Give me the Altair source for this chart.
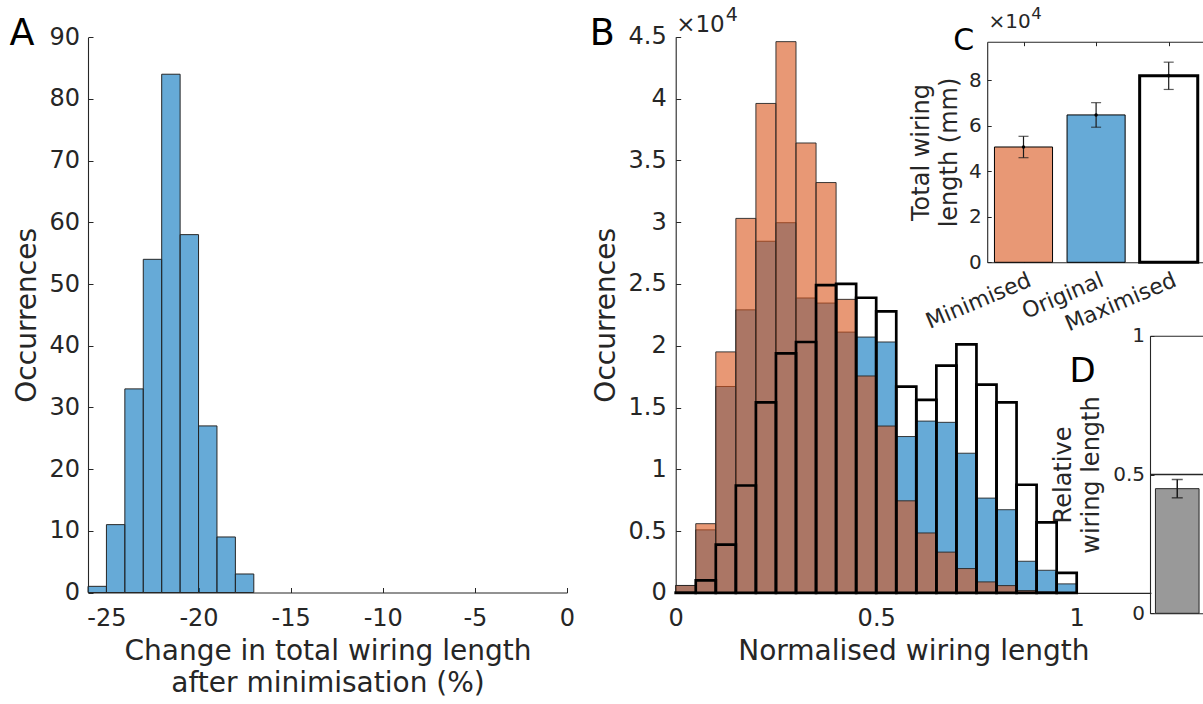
import altair as alt
import pandas as pd

FONT = "DejaVu Sans"
AXIS_GREY = "#262626"
EDGE_GREY = "#262626"
BLUE = "#0072BD"
ORANGE = "#D95319"

# ---------------- data ----------------
# A: change in total wiring length after minimisation (%), 1 % bins
a_bin_left = [-26, -25, -24, -23, -22, -21, -20, -19, -18]
a_counts = [1, 11, 33, 54, 84, 58, 27, 9, 3]
a_bin_width = 1
a_xticks = [-25, -20, -15, -10, -5, 0]
a_yticks = [0, 10, 20, 30, 40, 50, 60, 70, 80, 90]

# B: normalised wiring length, occurrences in units of 10^4
b_bin_left = [0.00, 0.05, 0.10, 0.15, 0.20, 0.25, 0.30, 0.35, 0.40, 0.45,
              0.50, 0.55, 0.60, 0.65, 0.70, 0.75, 0.80, 0.85, 0.90, 0.95]
b_bin_width = 0.05
b_minimised = [0.06, 0.56, 1.95, 3.03, 3.96, 4.46, 3.64, 3.32, 2.375, 1.755,
               1.35, 0.745, 0.485, 0.33, 0.197, 0.089, 0.059, 0.019, 0.008, 0.003]
b_original = [0.06, 0.51, 1.67, 2.29, 2.845, 2.995, 2.386, 2.345, 2.11, 2.07,
              2.03, 1.265, 1.39, 1.38, 1.13, 0.767, 0.673, 0.256, 0.183, 0.073]
b_maximised = [0.002, 0.102, 0.39, 0.869, 1.542, 1.938, 2.03, 2.49, 2.50, 2.388,
               2.278, 1.669, 1.561, 1.838, 2.011, 1.685, 1.542, 0.875, 0.571, 0.162]
b_xticks = [0, 0.5, 1]
b_yticks = [0, 0.5, 1, 1.5, 2, 2.5, 3, 3.5, 4, 4.5]

# C: total wiring length (x 10^4 mm), mean and error
c_names = ["Minimised", "Original", "Maximised"]
c_means = [5.07, 6.48, 8.20]
c_errors = [0.47, 0.54, 0.60]
c_yticks = [0, 2, 4, 6, 8]

# D: relative wiring length
d_mean = [0.449]
d_error = [0.033]
d_reference = [0.5]
d_yticks = [0, 0.5, 1]

# ---------------- styling ----------------
C_FILLS = ["#E89875", "#66AAD7", "#FFFFFF"]
C_EDGE_WIDTHS = [1, 1, 3]

W, H = 1203, 700


def lin(domain, rng):
    return alt.Scale(domain=domain, range=rng, nice=False, zero=False)


def inward(px):
    # ticks drawn towards the inside of the axes box
    return alt.ExprRef(expr=f"-{px}")


NUM = "'' + datum.value"

# plot areas of the four panels on the canvas
sx_a, sy_a = lin([-26, 0], [88, 567]), lin([0, 90], [592.5, 37.2])
sx_b, sy_b = lin([0, 1.185], [675.7, 675.7 + 1.185 * 401]), lin([0, 4.5], [592.9, 36.7])
sx_c, sy_c = lin([0.5, 3.5], [987.2, 1205]), lin([0, 9.7], [262.3, 41.7])
sx_d, sy_d = lin([0.5, 1.5], [1150, 1204.5]), lin([0, 1], [613.3, 335.7])

# ---------------- panel A ----------------
df_a = pd.DataFrame({"left": a_bin_left, "n": a_counts})
df_a["right"] = df_a["left"] + a_bin_width
df_a["base"] = 0

a_hist = alt.Chart(df_a).mark_rect(
    fill=BLUE, fillOpacity=0.6, stroke=EDGE_GREY, strokeWidth=1
).encode(
    x=alt.X("left:Q", scale=sx_a, axis=alt.Axis(
        orient="bottom", offset=-(H - 592.5), values=a_xticks, labelExpr=NUM,
        tickSize=inward(5), labelPadding=19, labelFontSize=24,
        title=["Change in total wiring length", "after minimisation (%)"],
        titleFontSize=28, titleLineHeight=31.5, titlePadding=7)),
    x2="right:Q",
    y=alt.Y("n:Q", scale=sy_a, axis=alt.Axis(
        orient="left", offset=-88, values=a_yticks, labelExpr=NUM,
        tickSize=inward(5), labelPadding=13.5, labelFontSize=24,
        title="Occurrences", titleFontSize=28, titlePadding=7)),
    y2="base:Q",
)

# ---------------- panel B ----------------
df_b = pd.DataFrame({"left": b_bin_left, "mn": b_minimised,
                     "orig": b_original, "mx": b_maximised})
df_b["right"] = df_b["left"] + b_bin_width
df_b["base"] = 0

b_x_axis = alt.Axis(
    orient="bottom", offset=-(H - 592.9), values=b_xticks, labelExpr=NUM,
    tickSize=inward(5), labelPadding=19, labelFontSize=24,
    title="Normalised wiring length", titleFontSize=28, titlePadding=7)
b_y_axis = alt.Axis(
    orient="left", offset=-675.7, values=b_yticks, labelExpr=NUM,
    tickSize=inward(5), labelPadding=14.5, labelFontSize=24,
    title="Occurrences", titleFontSize=28, titlePadding=7.5)


def b_layer(field, mark, x_axis=None, y_axis=None):
    return alt.Chart(df_b).mark_rect(**mark).encode(
        x=alt.X("left:Q", scale=sx_b, axis=x_axis),
        x2="right:Q",
        y=alt.Y(f"{field}:Q", scale=sy_b, axis=y_axis),
        y2="base:Q",
    )


b_orig = b_layer("orig", dict(fill=BLUE, fillOpacity=0.6, stroke=EDGE_GREY,
                              strokeWidth=0.9), b_x_axis, b_y_axis)
b_min = b_layer("mn", dict(fill=ORANGE, fillOpacity=0.6, stroke=EDGE_GREY,
                           strokeWidth=0.9))
b_max = b_layer("mx", dict(fill="white", fillOpacity=0, stroke="black",
                           strokeWidth=2.7))

# ---------------- panel C ----------------
df_c = pd.DataFrame({"name": c_names, "mean": c_means, "err": c_errors})
df_c["pos"] = range(1, len(c_names) + 1)
df_c["lo"] = df_c["pos"] - 0.4
df_c["hi"] = df_c["pos"] + 0.4
df_c["base"] = 0
df_c["elo"] = df_c["mean"] - df_c["err"]
df_c["ehi"] = df_c["mean"] + df_c["err"]
df_c["fill"] = C_FILLS
df_c["sw"] = C_EDGE_WIDTHS

c_label_expr = "[" + ",".join(f"'{n}'" for n in c_names) + "][datum.value - 1]"

c_bars = alt.Chart(df_c).mark_rect(stroke="black").encode(
    x=alt.X("lo:Q", scale=sx_c, axis=alt.Axis(
        orient="bottom", offset=-(H - 262.3), values=list(df_c["pos"]),
        labelExpr=c_label_expr, labelAngle=337, tickSize=inward(4),
        labelPadding=11, labelOffset=2, labelFontSize=22, title=None)),
    x2="hi:Q",
    y=alt.Y("base:Q", scale=sy_c, axis=alt.Axis(
        orient="left", offset=-987.2, values=c_yticks, labelExpr=NUM,
        tickSize=inward(4), labelPadding=10, labelFontSize=20,
        title=["Total wiring", "length (mm)"], titleFontSize=24,
        titleLineHeight=28, titlePadding=7)),
    y2="mean:Q",
    fill=alt.Fill("fill:N", scale=None),
    strokeWidth=alt.StrokeWidth("sw:Q", scale=None),
)

c_err = alt.Chart(df_c).mark_rule(color="#1a1a1a", strokeWidth=1.2).encode(
    x=alt.X("pos:Q", scale=sx_c, axis=alt.Axis(
        orient="top", offset=-41.7, values=list(df_c["pos"]), labels=False,
        tickSize=inward(4), title=None)),
    y=alt.Y("elo:Q", scale=sy_c, axis=None),
    y2="ehi:Q",
)


def caps(df, field, sx, sy, width, thick):
    return alt.Chart(df).mark_tick(orient="horizontal", size=width,
                                   thickness=thick, color="#1a1a1a").encode(
        x=alt.X("pos:Q", scale=sx, axis=None),
        y=alt.Y(f"{field}:Q", scale=sy, axis=None),
    )


c_caps = [caps(df_c, "elo", sx_c, sy_c, 10, 1.2), caps(df_c, "ehi", sx_c, sy_c, 10, 1.2)]
c_dot = alt.Chart(df_c).mark_point(filled=True, size=12, color="black", opacity=1).encode(
    x=alt.X("pos:Q", scale=sx_c, axis=None),
    y=alt.Y("mean:Q", scale=sy_c, axis=None),
)

# ---------------- panel D ----------------
df_d = pd.DataFrame({"mean": d_mean, "err": d_error})
df_d["pos"] = 1
df_d["lo"] = df_d["pos"] - 0.4
df_d["hi"] = df_d["pos"] + 0.4
df_d["base"] = 0
df_d["elo"] = df_d["mean"] - df_d["err"]
df_d["ehi"] = df_d["mean"] + df_d["err"]

d_bar = alt.Chart(df_d).mark_rect(fill="#999999", stroke=EDGE_GREY, strokeWidth=1).encode(
    x=alt.X("lo:Q", scale=sx_d, axis=alt.Axis(
        orient="bottom", offset=-(H - 613.3), ticks=False, labels=False, title=None)),
    x2="hi:Q",
    y=alt.Y("base:Q", scale=sy_d, axis=alt.Axis(
        orient="left", offset=-1150, values=d_yticks, labelExpr=NUM,
        tickSize=inward(4), labelPadding=9.5, labelFontSize=20,
        title=["Relative", "wiring length"], titleFontSize=24,
        titleLineHeight=28, titlePadding=9)),
    y2="mean:Q",
)

df_ref = pd.DataFrame({"y": d_reference, "x0": [0.5], "x1": [1.5]})
d_ref = alt.Chart(df_ref).mark_rule(color=AXIS_GREY, strokeWidth=1.3).encode(
    x=alt.X("x0:Q", scale=sx_d, axis=alt.Axis(
        orient="top", offset=-335.7, ticks=False, labels=False, title=None)),
    x2="x1:Q",
    y=alt.Y("y:Q", scale=sy_d, axis=None),
)

d_err = alt.Chart(df_d).mark_rule(color="#1a1a1a", strokeWidth=1.5).encode(
    x=alt.X("pos:Q", scale=sx_d, axis=None),
    y=alt.Y("elo:Q", scale=sy_d, axis=None),
    y2="ehi:Q",
)
d_caps = [caps(df_d, "elo", sx_d, sy_d, 11, 1.5), caps(df_d, "ehi", sx_d, sy_d, 11, 1.5)]


# ---------------- annotations ----------------
def note(x, y, text, sx, sy, size, dx, dy, color="black"):
    df = pd.DataFrame({"x": [x], "y": [y], "t": [text]})
    return alt.Chart(df).mark_text(
        align="left", baseline="alphabetic", font=FONT, fontSize=size,
        dx=dx, dy=dy, color=color).encode(
        x=alt.X("x:Q", scale=sx, axis=None),
        y=alt.Y("y:Q", scale=sy, axis=None),
        text="t:N",
    )


notes = [
    note(-26, 90, "A", sx_a, sy_a, 36.5, -78.5, 8),
    note(0, 4.5, "B", sx_b, sy_b, 36.5, -86, 8.3),
    note(0.5, 9.7, "C", sx_c, sy_c, 30, -34, 8.3),
    note(0.5, 1, "D", sx_d, sy_d, 34, -80.5, 46),
    note(0, 4.5, "×10", sx_b, sy_b, 23, 0.5, -5, AXIS_GREY),
    note(0, 4.5, "4", sx_b, sy_b, 19, 50, -16, AXIS_GREY),
    note(0.5, 9.7, "×10", sx_c, sy_c, 20, 1.3, -13.4, AXIS_GREY),
    note(0.5, 9.7, "4", sx_c, sy_c, 16.5, 44, -22.5, AXIS_GREY),
]

layers = [a_hist, b_orig, b_min, b_max,
          c_bars, c_err, *c_caps, c_dot,
          d_bar, d_ref, d_err, *d_caps, *notes]

chart = alt.layer(*layers).resolve_scale(
    x="independent", y="independent"
).resolve_axis(
    x="independent", y="independent"
).properties(
    width=W, height=H, padding=0, background="white",
    autosize=alt.AutoSizeParams(type="none"),
).configure_view(
    stroke=None
).configure_axis(
    grid=False, domainColor=AXIS_GREY, tickColor=AXIS_GREY,
    labelColor=AXIS_GREY, titleColor=AXIS_GREY, labelFont=FONT,
    titleFont=FONT, titleFontWeight="normal", domainWidth=1.1, tickWidth=1,
    labelFlush=False, labelOverlap=False,
)

chart.save("out.html", embed_options={"renderer": "svg", "actions": False})
